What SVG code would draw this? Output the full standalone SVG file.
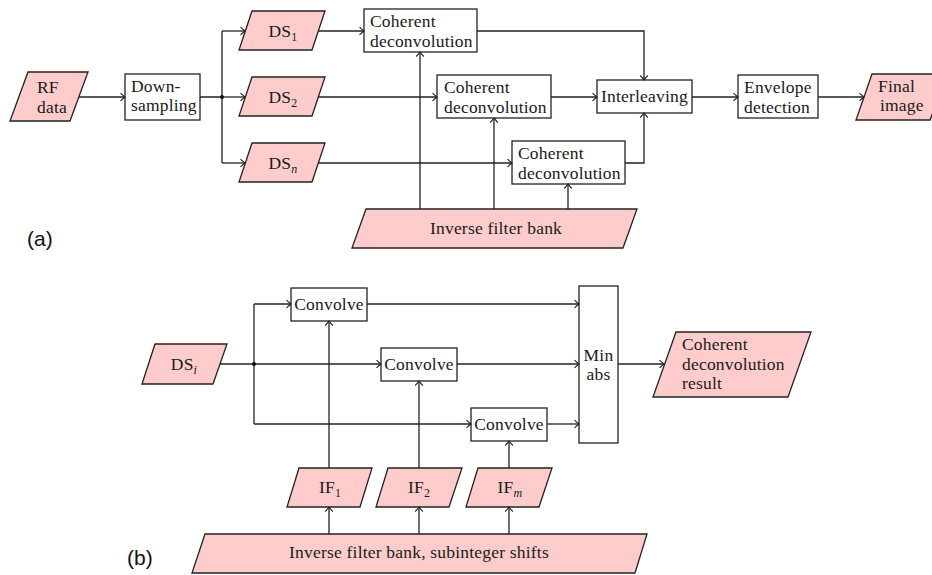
<svg xmlns="http://www.w3.org/2000/svg" width="932" height="575" viewBox="0 0 932 575">
<style>
.box{fill:#fff;stroke:#222;stroke-width:1.3}
.io{fill:#ffcccc;stroke:#222;stroke-width:1.3}
.t{font-family:"Liberation Serif","Times New Roman",serif;font-size:17.5px;letter-spacing:0.2px;fill:#1a1a1a}
.c{text-anchor:middle}
.sub{font-size:12px}
.lab{font-family:"Liberation Sans",Arial,sans-serif;font-size:21px;fill:#111}
.ln{fill:none;stroke:#222;stroke-width:1.3}
</style>
<defs>
<marker id="ar" viewBox="-6 -5 7 10" refX="0" refY="0" markerWidth="7" markerHeight="10" orient="auto" markerUnits="userSpaceOnUse">
<path d="M-4.5,-3.8 Q-1.5,-1 0,0 Q-1.5,1 -4.5,3.8" fill="none" stroke="#222" stroke-width="1.1"/>
</marker>
</defs>

<!-- (a) -->
<g id="rf"><polygon class="io" points="28,72 88,72 70,121 10,121"/><text class="t" x="37" y="93">RF</text><text class="t" x="37" y="113">data</text></g>
<g id="down"><rect class="box" x="125" y="74" width="75" height="46"/><text class="t" x="131" y="92">Down-</text><text class="t" x="131" y="111">sampling</text></g>
<g id="ds1"><polygon class="io" points="252,11 325,11 312,50 239,50"/><text class="t c" x="283" y="37">DS<tspan class="sub" dy="4">1</tspan></text></g>
<g id="ds2"><polygon class="io" points="252,77 325,77 312,116 239,116"/><text class="t c" x="283" y="103">DS<tspan class="sub" dy="4">2</tspan></text></g>
<g id="dsn"><polygon class="io" points="252,143 325,143 312,182 239,182"/><text class="t c" x="283" y="169">DS<tspan class="sub" dy="4" font-style="italic">n</tspan></text></g>
<g id="cd1"><rect class="box" x="364" y="9" width="113" height="43"/><text class="t" x="370" y="27">Coherent</text><text class="t" x="370" y="47">deconvolution</text></g>
<g id="cd2"><rect class="box" x="437" y="75" width="114" height="43"/><text class="t" x="444" y="93">Coherent</text><text class="t" x="444" y="113">deconvolution</text></g>
<g id="cd3"><rect class="box" x="512" y="141" width="113" height="43"/><text class="t" x="518" y="159">Coherent</text><text class="t" x="518" y="179">deconvolution</text></g>
<g id="inter"><rect class="box" x="597" y="80" width="95" height="33"/><text class="t c" x="644.5" y="102">Interleaving</text></g>
<g id="env"><rect class="box" x="738" y="75" width="80" height="43"/><text class="t" x="744" y="93">Envelope</text><text class="t" x="744" y="113">detection</text></g>
<g id="final"><polygon class="io" points="872,74 948,74 930,120 856,120"/><text class="t" x="878" y="92">Final</text><text class="t" x="880" y="111">image</text></g>
<g id="ifb"><polygon class="io" points="366,209 637,209 623,248 352,248"/><text class="t c" x="496" y="234">Inverse filter bank</text></g>
<text class="lab" x="27" y="246">(a)</text>

<!-- (b) -->
<g id="dsi"><polygon class="io" points="155,344 227,344 213,384 142,384"/><text class="t c" x="184" y="370">DS<tspan class="sub" dy="4" font-style="italic">i</tspan></text></g>
<g id="conv1"><rect class="box" x="291" y="288" width="76" height="33"/><text class="t c" x="329" y="310">Convolve</text></g>
<g id="conv2"><rect class="box" x="381" y="348" width="76" height="33"/><text class="t c" x="419" y="370">Convolve</text></g>
<g id="conv3"><rect class="box" x="471" y="408" width="76" height="33"/><text class="t c" x="509" y="430">Convolve</text></g>
<g id="minabs"><rect class="box" x="579" y="286" width="39" height="157"/><text class="t c" x="598.5" y="361">Min</text><text class="t c" x="598.5" y="380">abs</text></g>
<g id="result"><polygon class="io" points="676,332 811,332 788,397 653,397"/><text class="t" x="682" y="350">Coherent</text><text class="t" x="682" y="370">deconvolution</text><text class="t" x="682" y="389">result</text></g>
<g id="if1"><polygon class="io" points="299,468 372,468 360,507 287,507"/><text class="t c" x="330" y="493">IF<tspan class="sub" dy="4">1</tspan></text></g>
<g id="if2"><polygon class="io" points="388,468 462,468 449,507 376,507"/><text class="t c" x="419" y="493">IF<tspan class="sub" dy="4">2</tspan></text></g>
<g id="ifm"><polygon class="io" points="478,468 552,468 539,507 466,507"/><text class="t c" x="510" y="493">IF<tspan class="sub" dy="4" font-style="italic">m</tspan></text></g>
<g id="ifbs"><polygon class="io" points="205,534 647,534 635,573 192,573"/><text class="t c" x="419" y="558">Inverse filter bank, subinteger shifts</text></g>
<text class="lab" x="127" y="565">(b)</text>

<g id="connectors">
<path class="ln" marker-end="url(#ar)" d="M79,97 H125"/>
<path class="ln" d="M200,97 H222 M222,31 V163"/>
<path class="ln" marker-end="url(#ar)" d="M222,31 H245"/>
<path class="ln" marker-end="url(#ar)" d="M222,97 H245"/>
<path class="ln" marker-end="url(#ar)" d="M222,163 H245"/>
<circle cx="222" cy="97" r="2" fill="#111"/>
<path class="ln" marker-end="url(#ar)" d="M318,31 H364"/>
<path class="ln" marker-end="url(#ar)" d="M318,97 H437"/>
<path class="ln" marker-end="url(#ar)" d="M318,163 H512"/>
<path class="ln" marker-end="url(#ar)" d="M477,31 H644 V80"/>
<path class="ln" marker-end="url(#ar)" d="M551,97 H597"/>
<path class="ln" marker-end="url(#ar)" d="M625,163 H644 V113"/>
<path class="ln" marker-end="url(#ar)" d="M692,97 H738"/>
<path class="ln" marker-end="url(#ar)" d="M818,97 H864"/>
<path class="ln" marker-end="url(#ar)" d="M420,209 V52"/>
<path class="ln" marker-end="url(#ar)" d="M494,209 V118"/>
<path class="ln" marker-end="url(#ar)" d="M568,209 V184"/>

<path class="ln" marker-end="url(#ar)" d="M220,364 H381"/>
<path class="ln" d="M254,304 V424"/>
<circle cx="254" cy="364" r="2" fill="#111"/>
<path class="ln" marker-end="url(#ar)" d="M254,304 H291"/>
<path class="ln" marker-end="url(#ar)" d="M254,424 H471"/>
<path class="ln" marker-end="url(#ar)" d="M367,304 H579"/>
<path class="ln" marker-end="url(#ar)" d="M457,364 H579"/>
<path class="ln" marker-end="url(#ar)" d="M547,424 H579"/>
<path class="ln" marker-end="url(#ar)" d="M618,364 H664"/>
<path class="ln" marker-end="url(#ar)" d="M329,468 V321"/>
<path class="ln" marker-end="url(#ar)" d="M419,468 V381"/>
<path class="ln" marker-end="url(#ar)" d="M509,468 V441"/>
<path class="ln" marker-end="url(#ar)" d="M329,534 V507"/>
<path class="ln" marker-end="url(#ar)" d="M419,534 V507"/>
<path class="ln" marker-end="url(#ar)" d="M509,534 V507"/>
</g>
</svg>
